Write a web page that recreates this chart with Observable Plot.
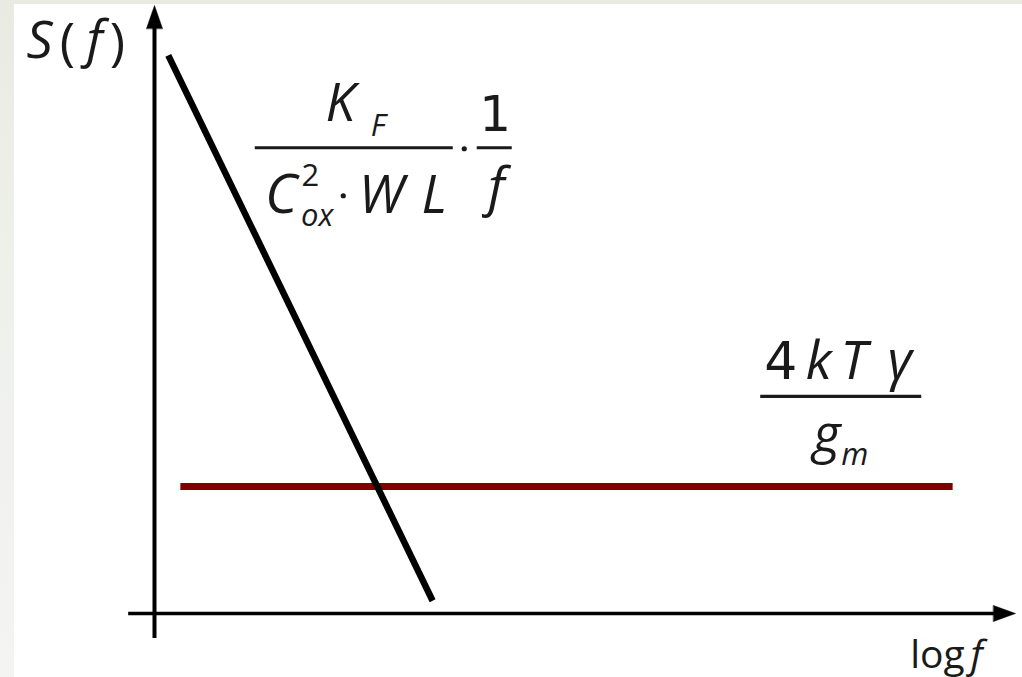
<!DOCTYPE html>
<html><head><meta charset="utf-8">
<script src="https://cdn.jsdelivr.net/npm/d3@7"></script>
<script src="https://cdn.jsdelivr.net/npm/@observablehq/plot@0.6"></script>
<style>
html,body{margin:0;padding:0;}
body{width:1022px;height:677px;overflow:hidden;position:relative;
  background:linear-gradient(180deg,#e9ebe3 0,#eef0ea 40%,#f4f4f2 100%);}
#chart{position:absolute;left:14px;top:4px;width:1008px;height:673px;background:#fff;}
#chart svg{display:block;}
</style></head><body><div id="chart"></div>
<script>
// Noise spectral density of a MOS transistor against log frequency:
// flicker (1/f) noise falls steeply, thermal noise stays flat.
const flickerLogF = [0.16, 3.23];
const flickerS = [9.18, 0.21];
const thermalLogF = [0.30, 9.27];
const thermalS = [2.09, 2.09];
const yAxisLabel = ["S", "(", "f", ")"];
const xAxisLabel = ["log", "f"];
const flickerFormula = ["K", "F", "C", "2", "ox", "W", "L", "1", "f"];
const thermalFormula = ["4", "k", "T", "γ", "g", "m"];

const flicker = flickerLogF.map((x, i) => ({x, y: flickerS[i]}));
const thermal = thermalLogF.map((x, i) => ({x, y: thermalS[i]}));

const FONT = "'Open Sans', 'Noto Sans', sans-serif";
const DIGIT_FONT = "'DejaVu Sans', 'Open Sans', sans-serif";
const INK = "#1a1a1a";

// one glyph group of a formula, placed relative to an anchor point in data units
function piece(t, at, dx, dy, size, italic, family = FONT) {
  return Plot.text([{t, x: at[0], y: at[1]}], {
    x: "x", y: "y", text: "t", dx, dy,
    fontSize: size, fontStyle: italic ? "italic" : "normal",
    fontFamily: family, fill: INK, textAnchor: "middle", lineAnchor: "bottom"
  });
}
function bar(at, dx, half) {
  return Plot.ruleY([at[1]], {x1: at[0], x2: at[0], dx, insetLeft: -half, insetRight: -half,
    stroke: INK, strokeWidth: 3.2});
}
function cdot(at, dx, dy) {
  return Plot.dot([at], {x: d => d[0], y: d => d[1], dx, dy, r: 2.6, fill: INK, stroke: null});
}

// filled triangular arrowhead
const head = {
  draw(context, l, r) {
    context.moveTo(-r, 0);
    context.lineTo(0, -l);
    context.lineTo(r, 0);
    context.closePath();
  }
};

const fA = [2.32, 7.66];   // fraction bar of the flicker term
const tA = [7.97, 3.57];   // fraction bar of the thermal term
const yTop = [0, 10];      // tip of the S(f) axis
const xEnd = [10, 0];      // tip of the log f axis
const [S, pL, fS, pR] = yAxisLabel;
const [lg, fX] = xAxisLabel;
const [K, F, C, two, ox, W, L, one, f1] = flickerFormula;
const [four, k, T, gam, g, m] = thermalFormula;

const chart = Plot.plot({
  width: 1008, height: 673,
  marginLeft: 140, marginRight: 7, marginTop: 1, marginBottom: 64,
  x: {domain: [0, 10], axis: null},
  y: {domain: [0, 10], axis: null},
  style: {background: "#fff", overflow: "visible"},
  marks: [
    // axes
    Plot.ruleX([0], {y1: -0.41, y2: 9.7, stroke: "#000", strokeWidth: 4}),
    Plot.ruleY([0], {x1: -0.30, x2: 9.8, stroke: "#000", strokeWidth: 3.3}),
    Plot.vector([yTop], {x: d => d[0], y: d => d[1], anchor: "end", rotate: 0,
      length: 23, r: 8, shape: head, fill: "#000", stroke: "#000", strokeWidth: 0.5}),
    Plot.vector([xEnd], {x: d => d[0], y: d => d[1], anchor: "end", rotate: 90,
      length: 22, r: 8, shape: head, fill: "#000", stroke: "#000", strokeWidth: 0.5}),

    // noise curves
    Plot.line(thermal, {x: "x", y: "y", stroke: "#800000", strokeWidth: 7, strokeLinecap: "butt"}),
    Plot.line(flicker, {x: "x", y: "y", stroke: "#000", strokeWidth: 6.5, strokeLinecap: "butt"}),

    // S(f)
    piece(S, yTop, -115, 52, 52, true),
    piece(pL, yTop, -87, 54, 52, false),
    piece(fS, yTop, -60, 51, 52, true),
    piece(pR, yTop, -37, 54, 52, false),

    // log f
    piece(lg, xEnd, -78, 54, 39, false),
    piece(fX, xEnd, -39, 54, 39, true),

    // K_F / (C_ox^2 · W L) · 1/f
    piece(K, fA, -14, -27, 53, true),
    piece(F, fA, 24, -12, 31, true),
    bar(fA, 0, 99),
    piece(C, fA, -73, 65, 55, true),
    piece(two, fA, -44, 38, 31, false),
    piece(ox, fA, -37, 78, 31, true),
    cdot(fA, -11, 48),
    piece(W, fA, 27, 65, 53, true),
    piece(L, fA, 80, 65, 53, true),
    cdot(fA, 110, 1),
    piece(one, fA, 141, -17, 50, false, DIGIT_FONT),
    bar(fA, 140.5, 17.5),
    piece(f1, fA, 142, 57, 53, true),

    // 4 k T γ / g_m
    piece(four, tA, -60, -17, 52, false, DIGIT_FONT),
    piece(k, tA, -22, -17, 53, true),
    piece(T, tA, 13, -17, 53, true),
    piece(gam, tA, 59, -17, 53, true),
    bar(tA, 0.5, 80.5),
    piece(g, tA, -14, 56, 53, true),
    piece(m, tA, 14, 69, 31, true)
  ]
});
document.getElementById("chart").append(chart);
</script>
</body></html>
